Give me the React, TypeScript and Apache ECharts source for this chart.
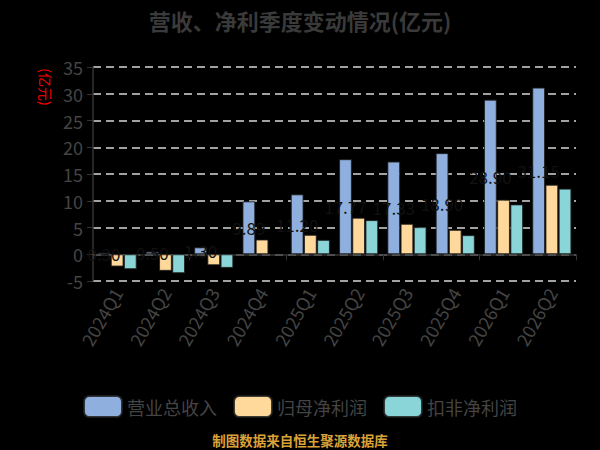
import React, { useEffect, useRef } from "react";
import * as echarts from "echarts";

const categories = ["2024Q1", "2024Q2", "2024Q3", "2024Q4", "2025Q1", "2025Q2", "2025Q3", "2025Q4", "2026Q1", "2026Q2"];
const revenue = [0.3, 0.5, 1.3, 9.89, 11.2, 17.77, 17.33, 18.9, 28.9, 31.15];
const netProfit = [-2.3, -3.1, -2.06, 2.76, 3.64, 6.83, 5.7, 4.57, 10.2, 13.0];
const deductedProfit = [-2.8, -3.55, -2.55, null, 2.7, 6.38, 5.07, 3.57, 9.32, 12.27];
const seriesNames = ["营业总收入", "归母净利润", "扣非净利润"];

const FONT = "'Noto Sans CJK SC', 'Noto Sans', sans-serif";

export default function App() {
  const ref = useRef<HTMLDivElement>(null);
  useEffect(() => {
    if (!ref.current) return;
    const chart = echarts.init(ref.current, null, { renderer: "svg" });
    const border = { borderColor: "rgba(30,30,30,0.85)", borderWidth: 1 };
    const barCommon = { type: "bar", xAxisIndex: 0, barWidth: 12.8, barGap: "3%" };
    chart.setOption({
      animation: false,
      backgroundColor: "#000",
      textStyle: { fontFamily: FONT },
      title: {
        text: "营收、净利季度变动情况(亿元)",
        left: "center",
        top: 4,
        textStyle: { color: "#3a3a3a", fontSize: 22, fontWeight: "bold", fontFamily: FONT },
      },
      legend: {
        data: seriesNames,
        left: "center",
        top: 390,
        icon: "roundRect",
        itemWidth: 38,
        itemHeight: 21,
        itemGap: 16,
        textStyle: { color: "#444", fontSize: 18, fontFamily: FONT },
      },
      grid: { left: 93, right: 24, top: 67, bottom: 169, containLabel: false },
      xAxis: [
        {
          type: "category",
          data: categories,
          position: "bottom",
          axisLine: { show: false, onZero: false },
          axisTick: { show: false },
          axisLabel: { rotate: 60, color: "#444", fontSize: 18, margin: 8, fontFamily: FONT },
        },
        {
          type: "category",
          data: categories,
          position: "bottom",
          axisLine: { show: true, onZero: true, lineStyle: { color: "#333", width: 1.5 } },
          axisTick: { show: true, length: 6, lineStyle: { color: "#333" } },
          axisLabel: { show: false },
          splitLine: { show: false },
        },
      ],
      yAxis: {
        type: "value",
        min: -5,
        max: 35,
        interval: 5,
        axisLine: { show: true, lineStyle: { color: "#333", width: 1.5 } },
        axisTick: { show: true, length: 6, lineStyle: { color: "#333" } },
        axisLabel: { color: "#444", fontSize: 18, margin: 10, fontFamily: FONT },
        splitLine: { show: true, lineStyle: { color: "#d8d8d8", type: [8, 5], width: 1.5 } },
      },
      graphic: [
        {
          type: "text",
          x: 46,
          y: 87,
          rotation: -Math.PI / 2,
          style: {
            text: "(亿元)",
            fill: "#ff0000",
            fontSize: 14,
            fontFamily: FONT,
            textAlign: "center",
            textVerticalAlign: "middle",
          },
        },
        {
          type: "text",
          x: 300,
          y: 440,
          style: {
            text: "制图数据来自恒生聚源数据库",
            fill: "#d9a33a",
            fontSize: 13.5,
            fontWeight: "bold",
            fontFamily: FONT,
            textAlign: "center",
            textVerticalAlign: "middle",
          },
        },
      ],
      series: [
        {
          ...barCommon,
          name: seriesNames[0],
          data: revenue,
          itemStyle: { color: "#8fb0de", ...border },
          label: {
            show: true,
            position: "inside",
            color: "#111",
            textBorderWidth: 0,
            textBorderColor: "transparent",
            fontSize: 17,
            fontFamily: FONT,
            formatter: (p: any) => Number(p.value).toFixed(2),
          },
        },
        {
          ...barCommon,
          name: seriesNames[1],
          data: netProfit,
          itemStyle: { color: "#ffd99b", ...border },
        },
        {
          ...barCommon,
          name: seriesNames[2],
          data: deductedProfit,
          itemStyle: { color: "#89d5d8", ...border },
        },
      ],
    });
    return () => chart.dispose();
  }, []);
  return <div ref={ref} style={{ position: "fixed", left: 0, top: 0, width: 600, height: 450 }} />;
}
